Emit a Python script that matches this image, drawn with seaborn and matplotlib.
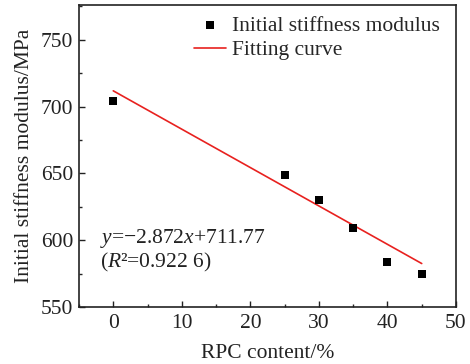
import matplotlib
matplotlib.use("Agg")
import matplotlib.pyplot as plt
import seaborn as sns
import numpy as np
import pandas as pd
from matplotlib.ticker import MultipleLocator

rpc = [0, 25, 30, 35, 40, 45]
modulus = [704, 649, 630, 609, 584, 575]
slope = -2.872
intercept = 711.77

sns.set_theme(style="ticks")
plt.rcParams['font.family'] = ['Liberation Serif', 'DejaVu Serif']
plt.rcParams['mathtext.fontset'] = 'custom'
plt.rcParams['mathtext.it'] = 'Liberation Serif:italic'
plt.rcParams['mathtext.rm'] = 'Liberation Serif'

FS = 15.5
fig = plt.figure(figsize=(4.70, 3.64), dpi=100)
ax = fig.add_axes([79/470, 1-307/364, (456-79)/470, (307-5)/364])

df = pd.DataFrame({"x": rpc, "y": modulus})
fit_x = np.array([rpc[0], rpc[-1]])
fit_df = pd.DataFrame({"x": fit_x, "y": slope * fit_x + intercept})

sns.scatterplot(data=df, x="x", y="y", ax=ax, marker="s", color="black",
                s=30, edgecolor="black", linewidth=0, label="Initial stiffness modulus", zorder=3)
sns.lineplot(data=fit_df, x="x", y="y", ax=ax, color="#e8211f", linewidth=1.2,
             label="Fitting curve")

ax.set_xlim(-5, 50)
ax.set_ylim(550, 776)
ax.xaxis.set_major_locator(MultipleLocator(10))
ax.xaxis.set_minor_locator(MultipleLocator(5))
ax.yaxis.set_major_locator(MultipleLocator(50))
ax.yaxis.set_minor_locator(MultipleLocator(25))
ax.tick_params(axis="both", which="major", direction="in", length=4, width=1,
               labelsize=FS, colors="#222222")
ax.tick_params(axis="x", which="major", pad=5)
ax.tick_params(axis="y", which="major", pad=4)
ax.tick_params(axis="both", which="minor", direction="in", length=2, width=1)
ax.tick_params(top=False, right=False, which="both")
for sp in ax.spines.values():
    sp.set_linewidth(1.2)
    sp.set_color("#222222")

ax.set_xlabel("RPC content/%", fontsize=FS, color="#222222", labelpad=8)
ax.set_ylabel("Initial stiffness modulus/MPa", fontsize=FS, color="#222222", labelpad=5)

leg = ax.legend(loc="upper right", frameon=False, fontsize=FS, handlelength=1.45,
                handletextpad=0.3, borderaxespad=0.1, labelspacing=0.2,
                bbox_to_anchor=(0.986, 1.0))

ax.text(0.057, 0.228, r"$y$=−2.872$x$+711.77", transform=ax.transAxes,
        fontsize=FS, color="#222222", va="center", ha="left")
ax.text(0.057, 0.146, r"($R$²=0.922 6)", transform=ax.transAxes,
        fontsize=FS, color="#222222", va="center", ha="left")

fig.savefig("out.png", dpi=100)
